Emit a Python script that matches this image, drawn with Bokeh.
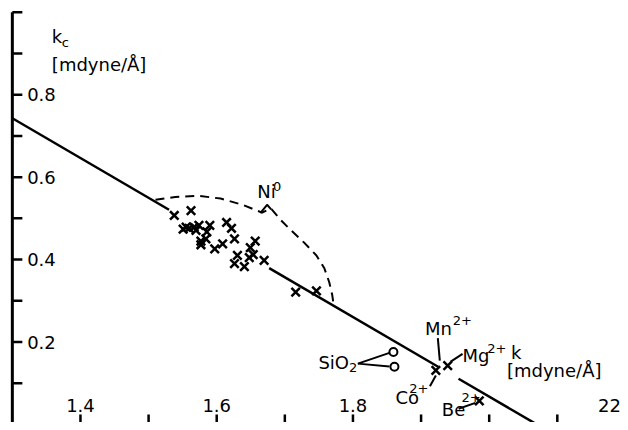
import math
from bokeh.plotting import figure
from bokeh.models import Range1d
from bokeh.core.properties import value
from bokeh.embed import file_html
from bokeh.resources import INLINE

# ---- data ----
k_points = [1.5377, 1.5623, 1.5551, 1.5594, 1.5667, 1.5739, 1.5507, 1.5696, 1.5899, 1.5855,
            1.5768, 1.5841, 1.5768, 1.5971, 1.6087, 1.6145, 1.6217, 1.6261, 1.6565, 1.6493,
            1.6536, 1.6304, 1.6261, 1.6406, 1.6478, 1.6696, 1.7159, 1.7464,
            1.9217, 1.9391, 1.9855]
kc_points = [0.507, 0.519, 0.479, 0.476, 0.479, 0.483, 0.474, 0.471, 0.483, 0.467,
             0.445, 0.450, 0.436, 0.426, 0.438, 0.490, 0.476, 0.450, 0.445, 0.429,
             0.412, 0.410, 0.390, 0.383, 0.405, 0.398, 0.321, 0.324,
             0.131, 0.143, 0.057]

sio2_k = [1.8594, 1.8609]
sio2_kc = [0.176, 0.140]

# fitted straight line (drawn in pieces, with gaps where the crosses sit)
line_pieces_k = [[1.300, 1.530], [1.677, 1.925], [1.955, 2.080]]
line_intercept = 1.997
line_slope = -0.9647

# dashed boundary round the Ni0 group
ni_curve_k = [1.5101, 1.5391, 1.5725, 1.6058, 1.6377, 1.6667, 1.6797, 1.6928, 1.7072,
              1.7290, 1.7464, 1.7580, 1.7652, 1.7696, 1.7710]
ni_curve_kc = [0.545, 0.552, 0.555, 0.548, 0.533, 0.514, 0.524, 0.498, 0.474,
               0.440, 0.410, 0.379, 0.345, 0.314, 0.298]
ni_kink_k = [1.6640, 1.6739, 1.6800]
ni_kink_kc = [0.513, 0.533, 0.522]

# axis ticks
y_ticks = [0.1, 0.2, 0.3, 0.4, 0.5, 0.6, 0.7, 0.8, 0.9, 1.0]
y_label_vals = [0.2, 0.4, 0.6, 0.8]
y_labels = ["0.2", "0.4", "0.6", "0.8"]
x_ticks = [1.4, 1.5, 1.6, 1.7, 1.8, 1.9, 2.0, 2.1]
x_label_vals = [1.4, 1.6, 1.8, 2.2]
x_labels = ["1.4", "1.6", "1.8", "22"]
axis_k = 1.3

# annotation leader lines
leader_x0 = [1.8072, 1.8072, 1.9246, 1.9435, 1.9130, 1.9551]
leader_y0 = [0.1476, 0.1476, 0.2095, 0.1524, 0.0929, 0.0381]
leader_x1 = [1.8536, 1.8536, 1.9275, 1.9609, 1.9217, 1.9797]
leader_y1 = [0.1738, 0.1405, 0.1548, 0.1714, 0.1190, 0.0524]

# main texts and small (sub/superscript) texts
main_text = ["k", "[mdyne/Å]", "Ni", "SiO", "Mn", "Mg", "k", "[mdyne/Å]", "Co", "Be"]
main_x = [1.3580, 1.3580, 1.6594, 1.7493, 1.9058, 1.9609, 2.0319, 2.0261, 1.8623, 1.9304]
main_y = [0.9405, 0.8738, 0.5643, 0.1500, 0.2333, 0.1667, 0.1738, 0.1310, 0.0643, 0.0357]
small_text = ["c", "0", "2", "2+", "2+", "2+", "2+"]
small_x = [1.3725, 1.6826, 1.7942, 1.9464, 1.9971, 1.8826, 1.9594]
small_y = [0.9260, 0.5762, 0.1380, 0.2524, 0.1833, 0.0881, 0.0643]

FONT = value("DejaVu Sans")

p = figure(width=620, height=422,
           x_range=Range1d(1.28261, 2.19275), y_range=Range1d(0.00476, 1.02857),
           output_backend="svg", toolbar_location=None,
           x_axis_type=None, y_axis_type=None, min_border=0,
           outline_line_color=None, background_fill_color="white",
           border_fill_color="white")

# axis line and ticks
p.segment(x0=[axis_k], y0=[0.0], x1=[axis_k], y1=[1.0], line_color="black", line_width=3)
p.ray(x=[axis_k] * len(y_ticks), y=y_ticks, length=10, length_units="screen",
      angle=0, line_color="black", line_width=2.5)
p.ray(x=x_ticks, y=[0.0] * len(x_ticks), length=10, length_units="screen",
      angle=math.pi / 2, line_color="black", line_width=2.5)
p.text(x=[axis_k + 0.0217] * len(y_label_vals), y=y_label_vals, text=y_labels,
       text_font=FONT, text_font_size="18px", text_align="left",
       text_baseline="middle", text_color="black")
x_offsets = [0, 0, 0, -16]
p.text(x=x_label_vals, y=[0.0452] * len(x_label_vals), text=x_labels,
       x_offset=x_offsets,
       text_font=FONT, text_font_size="18px", text_align="center",
       text_baseline="middle", text_color="black")

# fitted line
for a, b in line_pieces_k:
    p.line([a, b], [line_intercept + line_slope * a, line_intercept + line_slope * b],
           line_color="black", line_width=2.5)

# dashed curve
p.line(ni_curve_k, ni_curve_kc, line_color="black", line_width=2, line_dash="9 6")
p.line(ni_kink_k, ni_kink_kc, line_color="black", line_width=2)

# leaders
p.segment(x0=leader_x0, y0=leader_y0, x1=leader_x1, y1=leader_y1,
          line_color="black", line_width=2)

# points
p.scatter(k_points, kc_points, marker="x", size=12, line_width=2.5, line_color="black")
p.scatter(sio2_k, sio2_kc, marker="circle", size=8, line_width=2, line_color="black",
          fill_color="white")

# texts
p.text(x=main_x, y=main_y, text=main_text, text_font=FONT, text_font_size="18px",
       text_align="left", text_baseline="middle", text_color="black")
p.text(x=small_x, y=small_y, text=small_text, text_font=FONT, text_font_size="13px",
       text_align="left", text_baseline="middle", text_color="black")

open("out.html", "w").write(file_html(p, INLINE))
